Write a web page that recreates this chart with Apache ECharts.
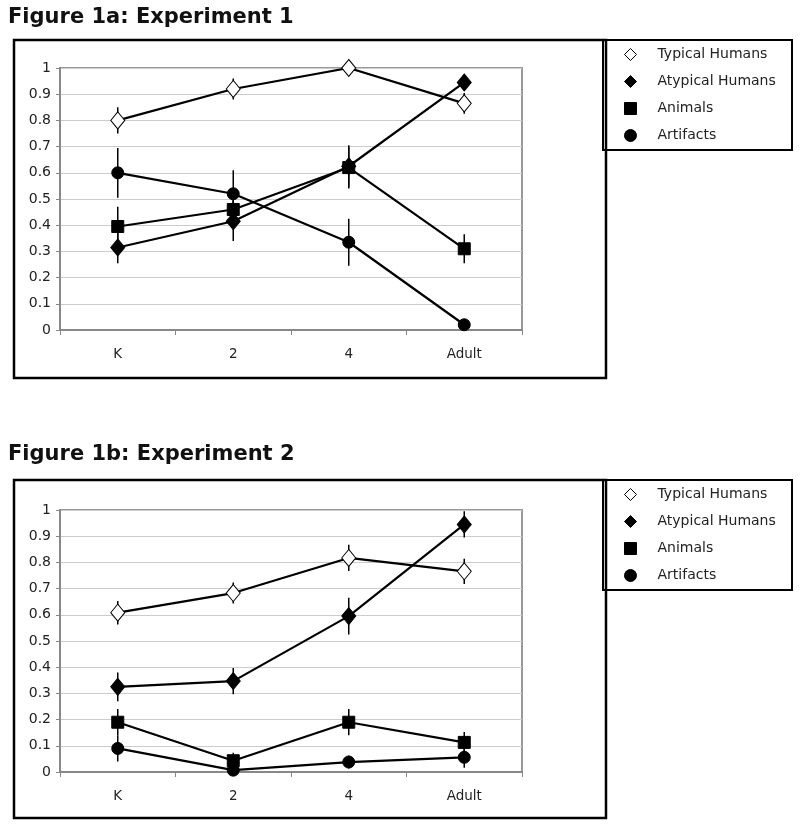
<!DOCTYPE html>
<html>
<head>
<meta charset="utf-8">
<script src="https://cdn.jsdelivr.net/npm/echarts@6/dist/echarts.min.js"></script>
<style>
  html, body { margin: 0; padding: 0; background: #fff; }
  #chart { width: 800px; height: 827px; }
</style>
</head>
<body>
<div id="chart"></div>
<script>
// categories and tick labels
const categories = ['K', '2', '4', 'Adult'];
const seriesNames = ['Typical Humans', 'Atypical Humans', 'Animals', 'Artifacts'];

// Experiment 1 means / error half-widths
const typical1 = [0.80, 0.92, 1.00, 0.865];
const typical1Err = [0.05, 0.04, 0.0, 0.04];
const atypical1 = [0.315, 0.415, 0.625, 0.945];
const atypical1Err = [0.06, 0.075, 0.08, 0.03];
const animals1 = [0.395, 0.46, 0.62, 0.31];
const animals1Err = [0.075, 0.05, 0.08, 0.055];
const artifacts1 = [0.60, 0.52, 0.335, 0.02];
const artifacts1Err = [0.095, 0.09, 0.09, 0.0];

// Experiment 2
const typical2 = [0.608, 0.683, 0.817, 0.766];
const typical2Err = [0.045, 0.04, 0.05, 0.048];
const atypical2 = [0.325, 0.347, 0.595, 0.945];
const atypical2Err = [0.055, 0.05, 0.07, 0.05];
const animals2 = [0.19, 0.043, 0.19, 0.113];
const animals2Err = [0.05, 0.03, 0.05, 0.04];
const artifacts2 = [0.09, 0.007, 0.038, 0.056];
const artifacts2Err = [0.05, 0.0, 0.025, 0.04];

const yTicks = [0, 0.1, 0.2, 0.3, 0.4, 0.5, 0.6, 0.7, 0.8, 0.9, 1];

const FONT = 'DejaVu Sans';

const symbolStyles = [
  { symbol: 'diamond', size: [14, 17], color: '#fff' },
  { symbol: 'diamond', size: [14, 17], color: '#000' },
  { symbol: 'rect', size: 12, color: '#000' },
  { symbol: 'circle', size: 12, color: '#000' }
];

const chart = echarts.init(document.getElementById('chart'));

function gridAxes(idx, top) {
  return {
    grid: { left: 60, width: 462, top: top, height: 262, show: true, borderColor: '#999', borderWidth: 2, backgroundColor: 'transparent' },
    xAxis: {
      gridIndex: idx, type: 'category', data: categories, boundaryGap: true,
      axisLine: { lineStyle: { color: '#888', width: 2 } },
      axisTick: { show: true, length: 5, lineStyle: { color: '#888' } },
      axisLabel: { color: '#222', fontFamily: FONT, fontSize: 13.5, margin: 17 },
      splitLine: { show: false }
    },
    yAxis: {
      gridIndex: idx, type: 'value', min: 0, max: 1, interval: 0.1,
      axisLine: { show: true, lineStyle: { color: '#888', width: 2 } },
      axisTick: { show: true, length: 4, lineStyle: { color: '#888' } },
      axisLabel: { color: '#222', fontFamily: FONT, fontSize: 14, margin: 9,
        formatter: v => String(yTicks[Math.round(v * 10)]) },
      splitLine: { show: true, lineStyle: { color: '#ccc', width: 1 } }
    }
  };
}

function makeSeries(idx, means, errs) {
  const out = [];
  means.forEach((vals, s) => {
    out.push({
      type: 'custom', name: seriesNames[s] + ' err', xAxisIndex: idx, yAxisIndex: idx, z: 1,
      silent: true,
      data: vals.map((v, i) => [i, v, errs[s][i]]),
      renderItem: (params, api) => {
        const x = api.value(0);
        const lo = api.coord([x, api.value(1) - api.value(2)]);
        const hi = api.coord([x, api.value(1) + api.value(2)]);
        return { type: 'line', shape: { x1: lo[0], y1: lo[1], x2: hi[0], y2: hi[1] },
          style: { stroke: '#000', lineWidth: 1.5 } };
      }
    });
    out.push({
      type: 'line', name: seriesNames[s], xAxisIndex: idx, yAxisIndex: idx, z: 3,
      data: vals, symbol: symbolStyles[s].symbol, symbolSize: symbolStyles[s].size,
      showAllSymbol: true,
      lineStyle: { color: '#000', width: 2.2 },
      itemStyle: { color: symbolStyles[s].color, borderColor: '#000', borderWidth: 1 }
    });
  });
  return out;
}

function legendAt(top) {
  return {
    orient: 'vertical', left: 619, top: top, itemWidth: 12, itemHeight: 12, itemGap: 12,
    selectedMode: false,
    textStyle: { fontFamily: FONT, fontSize: 14, lineHeight: 15, color: '#222', padding: [0, 0, 0, 16] },
    data: seriesNames.map((n, s) => ({
      name: n, icon: symbolStyles[s].symbol,
      itemStyle: { color: symbolStyles[s].color, borderColor: '#000', borderWidth: 1 }
    }))
  };
}

const g1 = gridAxes(0, 68);
const g2 = gridAxes(1, 510);

const option = {
  animation: false,
  backgroundColor: '#fff',
  title: [
    { text: 'Figure 1a: Experiment 1', left: 3, top: 2,
      textStyle: { fontFamily: FONT, fontWeight: 'bold', fontSize: 21, color: '#111' } },
    { text: 'Figure 1b: Experiment 2', left: 3, top: 439,
      textStyle: { fontFamily: FONT, fontWeight: 'bold', fontSize: 21, color: '#111' } }
  ],
  graphic: [
    { type: 'rect', shape: { x: 14, y: 40, width: 592, height: 338 }, style: { fill: 'none', stroke: '#000', lineWidth: 2.5 }, z: 0 },
    { type: 'rect', shape: { x: 14, y: 480, width: 592, height: 338 }, style: { fill: 'none', stroke: '#000', lineWidth: 2.5 }, z: 0 },
    { type: 'rect', shape: { x: 603, y: 40, width: 189, height: 110 }, style: { fill: 'none', stroke: '#000', lineWidth: 2 }, z: 0 },
    { type: 'rect', shape: { x: 603, y: 480, width: 189, height: 110 }, style: { fill: 'none', stroke: '#000', lineWidth: 2 }, z: 0 }
  ],
  legend: [legendAt(42), legendAt(482)],
  grid: [g1.grid, g2.grid],
  xAxis: [g1.xAxis, g2.xAxis],
  yAxis: [g1.yAxis, g2.yAxis],
  series: [
    ...makeSeries(0, [typical1, atypical1, animals1, artifacts1], [typical1Err, atypical1Err, animals1Err, artifacts1Err]),
    ...makeSeries(1, [typical2, atypical2, animals2, artifacts2], [typical2Err, atypical2Err, animals2Err, artifacts2Err])
  ]
};

chart.setOption(option);
window.addEventListener('resize', () => chart.resize());
</script>
</body>
</html>
